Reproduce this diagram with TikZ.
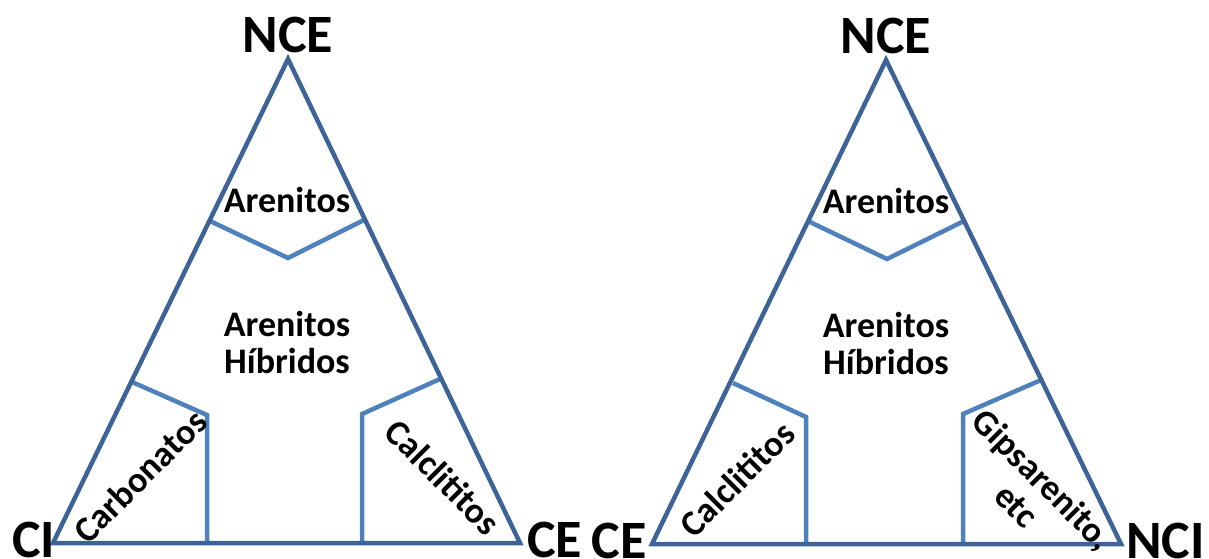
\documentclass[tikz,border=0pt]{standalone}
\usepackage{fontspec}
\setmainfont{Carlito}
\begin{document}
\begin{tikzpicture}[x=1pt,y=-1pt,
  outer/.style={draw=outerblue,line width=4.5pt,line join=miter},
  inner/.style={draw=innerblue,line width=4.5pt,line join=miter},
  corner/.style={font=\fontsize{54}{58}\selectfont\bfseries,inner sep=0pt,anchor=base},
  zone/.style={font=\fontsize{36}{37}\selectfont\bfseries,inner sep=0pt,align=center}]
\definecolor{outerblue}{HTML}{3E6497}
\definecolor{innerblue}{HTML}{4F81BD}
\useasboundingbox (0,0) rectangle (1209,558);
% ---- left triangle ----
\coordinate (LA) at (288,59);
\coordinate (LL) at (53,543);
\coordinate (LR) at (520,543);
\coordinate (La1) at (210,221);
\coordinate (La2) at (288,258);
\coordinate (La3) at (364,220);
\coordinate (Lb1) at (132,382);
\coordinate (Lb2) at (207,415);
\coordinate (Lb3) at (207,543);
\coordinate (Lc1) at (440,379);
\coordinate (Lc2) at (362,414);
\coordinate (Lc3) at (362,543);
\draw[inner] (La1) -- (La2) -- (La3);
\draw[inner] (Lb1) -- (Lb2) -- (Lb3);
\draw[inner] (Lc1) -- (Lc2) -- (Lc3);
\draw[outer] (LA) -- (LL) -- (LR) -- cycle;
\node[corner] (lnce) at (288,52) {NCE};
\node[corner,anchor=base west] (lci) at (12,557) {CI};
\node[corner,anchor=base west] (lce) at (527,557) {CE};
\node[zone,anchor=base] (lar) at (287,212) {Arenitos};
\node[zone,anchor=base] (lah) at (287,373) {Arenitos\\Híbridos};
\node[zone,rotate=45] (lcarb) at (140,476) {Carbonatos};
\node[zone,rotate=-45] (lcalc) at (443,477) {Calclititos};
% ---- right triangle ----
\coordinate (RA) at (886,60);
\coordinate (RL) at (652,544);
\coordinate (RR) at (1121,544);
\coordinate (Ra1) at (810,222);
\coordinate (Ra2) at (887,259);
\coordinate (Ra3) at (964,221);
\coordinate (Rb1) at (733,383);
\coordinate (Rb2) at (806,417);
\coordinate (Rb3) at (806,544);
\coordinate (Rc1) at (1041,380);
\coordinate (Rc2) at (963,414);
\coordinate (Rc3) at (963,544);
\draw[inner] (Ra1) -- (Ra2) -- (Ra3);
\draw[inner] (Rb1) -- (Rb2) -- (Rb3);
\draw[inner] (Rc1) -- (Rc2) -- (Rc3);
\draw[outer] (RA) -- (RL) -- (RR) -- cycle;
\node[corner] (rnce) at (886,53) {NCE};
\node[corner,anchor=base east] (rce) at (647,558) {CE};
\node[corner,anchor=base west] (rnci) at (1126,558) {NCI};
\node[zone,anchor=base] (rar) at (886,213) {Arenitos};
\node[zone,anchor=base] (rah) at (886,374) {Arenitos\\Híbridos};
\node[zone,rotate=45] (rcalc) at (737,479) {Calclititos};
\node[zone,rotate=-45] (rgips) at (1030,492) {Gipsarenito,\\etc};
\end{tikzpicture}
\end{document}
